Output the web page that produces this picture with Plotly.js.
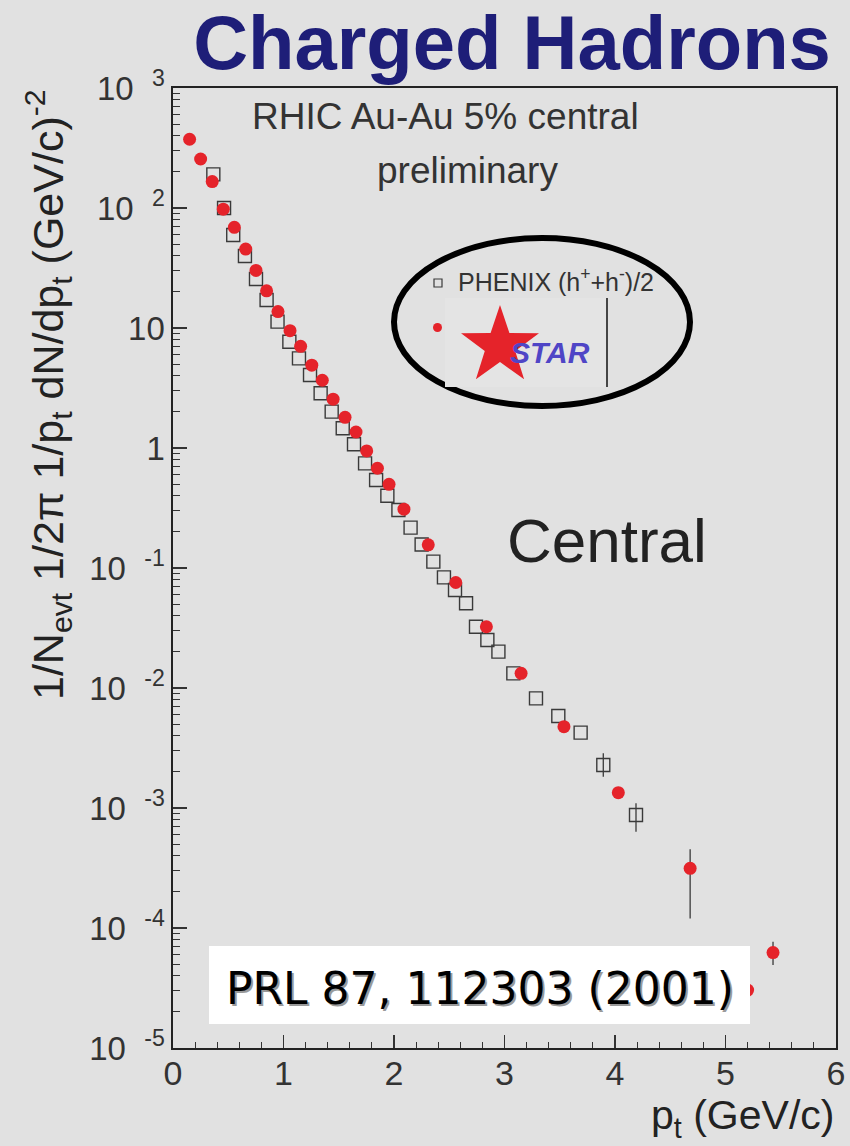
<!DOCTYPE html>
<html>
<head>
<meta charset="utf-8">
<script src="https://cdn.plot.ly/plotly-3.0.1.min.js"></script>
<style>
  html, body { margin: 0; padding: 0; background: #e1e1e1; }
  #chart { width: 850px; height: 1146px; }
</style>
</head>
<body>
<div id="chart"></div>
<script>
// ---------------- data ----------------
const starPt = [0.15, 0.25, 0.355, 0.455, 0.555, 0.658, 0.751, 0.847, 0.95, 1.059, 1.155, 1.256, 1.351, 1.449, 1.557, 1.656, 1.753, 1.85, 1.955, 2.09, 2.31, 2.559, 2.836, 3.15, 3.538, 4.03, 4.68, 5.2, 5.43];
const starYield = [374, 256, 166, 97.7, 69.0, 45.5, 30.2, 20.4, 13.7, 9.5, 7.03, 4.9, 3.67, 2.55, 1.80, 1.36, 0.946, 0.678, 0.498, 0.309, 0.156, 0.0757, 0.0324, 0.01324, 0.00476, 0.001343, 0.000314, 0.0000304, 0.0000624];
const starErrPlus  = [0,0,0,0,0,0,0,0,0,0,0,0,0,0,0,0,0,0,0,0,0,0,0,0,0,0, 0.000139, 0.000008, 0.0000145];
const starErrMinus = [0,0,0,0,0,0,0,0,0,0,0,0,0,0,0,0,0,0,0,0,0,0,0,0,0,0, 0.000194, 0.000008, 0.0000132];

const phenixPt = [0.365, 0.462, 0.545, 0.651, 0.751, 0.847, 0.946, 1.053, 1.14, 1.24, 1.336, 1.436, 1.536, 1.638, 1.738, 1.838, 1.94, 2.04, 2.15, 2.25, 2.356, 2.452, 2.552, 2.652, 2.742, 2.845, 2.945, 3.08, 3.285, 3.487, 3.689, 3.894, 4.19];
const phenixYield = [190.5, 100, 59.6, 39.8, 25.6, 17.1, 11.3, 7.69, 5.58, 4.06, 2.86, 2.01, 1.46, 1.074, 0.745, 0.541, 0.40, 0.304, 0.217, 0.157, 0.113, 0.0836, 0.0656, 0.0508, 0.0324, 0.0251, 0.0201, 0.01324, 0.0082, 0.00585, 0.00425, 0.00228, 0.000875];
const phenixErrPlus  = [0,0,0,0,0,0,0,0,0,0,0,0,0,0,0,0,0,0,0,0,0,0,0,0,0,0,0,0,0,0,0, 0.000578, 0.000219];
const phenixErrMinus = [0,0,0,0,0,0,0,0,0,0,0,0,0,0,0,0,0,0,0,0,0,0,0,0,0,0,0,0,0,0,0, 0.000456, 0.00024];

const yTickVals = [1e-5, 1e-4, 1e-3, 1e-2, 1e-1, 1, 10, 100, 1000];
const yTickText = ["10\u00a0\u00a0<sup>-5</sup>", "10\u00a0\u00a0<sup>-4</sup>", "10\u00a0\u00a0<sup>-3</sup>", "10\u00a0\u00a0<sup>-2</sup>", "10\u00a0\u00a0<sup>-1</sup>", "1", "10", "10\u00a0\u00a0<sup>2</sup>", "10\u00a0\u00a0<sup>3</sup>"];
const xTickVals = [0, 1, 2, 3, 4, 5, 6];
const xTickText = ["0", "1", "2", "3", "4", "5", "6"];

// ---------------- geometry helpers ----------------
const W = 850, H = 1146;
const M = {l: 173, r: 14, t: 88, b: 98};
const PW = W - M.l - M.r, PH = H - M.t - M.b;
const fx = px => (px - M.l) / PW;
const fy = py => (H - M.b - py) / PH;

const yMinor = [];
for (let n = -5; n <= 2; n++) for (let k = 2; k <= 9; k++) yMinor.push(k * Math.pow(10, n));

// star logo path
function starPath(cx, cy, R, r) {
  let d = "";
  for (let i = 0; i < 10; i++) {
    const a = -Math.PI / 2 + i * Math.PI / 5;
    const rad = (i % 2 === 0) ? R : r;
    const X = fx(cx + rad * Math.cos(a)), Y = fy(cy + rad * Math.sin(a));
    d += (i === 0 ? "M" : "L") + X.toFixed(5) + "," + Y.toFixed(5) + " ";
  }
  return d + "Z";
}

const BG = "#e1e1e1";
const FONT = "Liberation Sans, Arial, sans-serif";

const traces = [
  {
    x: phenixPt, y: phenixYield, type: "scatter", mode: "markers", name: "PHENIX",
    marker: {symbol: "square-open", size: 13, color: "#3a3a3a", line: {color: "#3a3a3a", width: 1.4}},
    error_y: {type: "data", symmetric: false, array: phenixErrPlus, arrayminus: phenixErrMinus, color: "#3a3a3a", thickness: 1.3, width: 0},
    showlegend: false, hoverinfo: "skip"
  },
  {
    x: starPt, y: starYield, type: "scatter", mode: "markers", name: "STAR",
    marker: {symbol: "circle", size: 13, color: "#e5232a"},
    error_y: {type: "data", symmetric: false, array: starErrPlus, arrayminus: starErrMinus, color: "#3a3a3a", thickness: 1.3, width: 0},
    showlegend: false, hoverinfo: "skip"
  }
];

const shapes = [
  // legend ellipse
  {type: "circle", xref: "paper", yref: "paper", x0: fx(394), x1: fx(690), y0: fy(406), y1: fy(238), line: {color: "#000", width: 6}, fillcolor: "rgba(0,0,0,0)"},
  // logo background
  {type: "rect", xref: "paper", yref: "paper", x0: fx(445), x1: fx(607), y0: fy(387), y1: fy(298), line: {width: 0}, fillcolor: "#e4e4e4"},
  {type: "line", xref: "paper", yref: "paper", x0: fx(607), x1: fx(607), y0: fy(387), y1: fy(298), line: {color: "#111", width: 1.5}},
  // red star
  {type: "path", xref: "paper", yref: "paper", path: starPath(500, 346, 41, 16), fillcolor: "#e5232a", line: {width: 0}},
  // legend symbols
  {type: "rect", xref: "paper", yref: "paper", x0: fx(434), x1: fx(442), y0: fy(287), y1: fy(279), line: {color: "#3a3a3a", width: 1.2}, fillcolor: "rgba(0,0,0,0)"},
  {type: "circle", xref: "paper", yref: "paper", x0: fx(433), x1: fx(442), y0: fy(332), y1: fy(323), line: {width: 0}, fillcolor: "#e5232a"},
  // PRL white box
  {type: "rect", xref: "paper", yref: "paper", layer: "above", x0: fx(209), x1: fx(750), y0: fy(1024), y1: fy(946), line: {width: 0}, fillcolor: "#ffffff"}
];

const annotations = [
  {xref: "paper", yref: "paper", x: fx(445), y: fy(117), text: "RHIC Au-Au 5% central", showarrow: false, xanchor: "center", yanchor: "middle", font: {family: FONT, size: 37, color: "#333"}},
  {xref: "paper", yref: "paper", x: fx(467), y: fy(170), text: "preliminary", showarrow: false, xanchor: "center", yanchor: "middle", font: {family: FONT, size: 37, color: "#333"}},
  {xref: "paper", yref: "paper", x: fx(607), y: fy(540), text: "Central", showarrow: false, xanchor: "center", yanchor: "middle", font: {family: FONT, size: 62, color: "#222"}},
  {xref: "paper", yref: "paper", x: fx(456), y: fy(280), text: "PHENIX (h<sup>+</sup>+h<sup>-</sup>)/2", showarrow: false, xanchor: "left", yanchor: "middle", font: {family: FONT, size: 25, color: "#333"}},
  {xref: "paper", yref: "paper", x: fx(550), y: fy(352), text: "<b><i>STAR</i></b>", showarrow: false, xanchor: "center", yanchor: "middle", font: {family: FONT, size: 30, color: "#4f45c6"}},
  // PRL reference (shadow + text)
  {xref: "paper", yref: "paper", x: fx(482), y: fy(990), text: "PRL 87, 112303 (2001)", showarrow: false, xanchor: "center", yanchor: "middle", font: {family: "DejaVu Sans, sans-serif", size: 44, color: "#9a9a9a"}},
  {xref: "paper", yref: "paper", x: fx(480), y: fy(988), text: "PRL 87, 112303 (2001)", showarrow: false, xanchor: "center", yanchor: "middle", font: {family: "DejaVu Sans, sans-serif", size: 44, color: "#000"}},
  // axis titles
  {xref: "paper", yref: "paper", x: fx(836), y: fy(1118), text: "p<sub>t</sub> (GeV/c)", showarrow: false, xanchor: "right", yanchor: "middle", font: {family: FONT, size: 41, color: "#222"}},
  {xref: "paper", yref: "paper", x: fx(48), y: fy(395), text: "1/N<sub>evt</sub> 1/2\u03c0 1/p<sub>t</sub> dN/dp<sub>t</sub> (GeV/c)<sup>-2</sup>", textangle: -90, showarrow: false, xanchor: "center", yanchor: "middle", font: {family: FONT, size: 43, color: "#222"}}
];

const layout = {
  width: W, height: H,
  margin: M,
  paper_bgcolor: BG, plot_bgcolor: BG,
  title: {
    text: "<b>Charged Hadrons</b>",
    x: 512 / W, xanchor: "center", xref: "container",
    y: 1 - 42 / H, yanchor: "middle", yref: "container",
    font: {family: FONT, size: 76, color: "#1e1e78"}
  },
  xaxis: {
    range: [0, 6], tickmode: "array", tickvals: xTickVals, ticktext: xTickText,
    ticks: "inside", ticklen: 13, tickwidth: 1.3, tickcolor: "#333",
    ticklabelstandoff: -5,
    minor: {dtick: 0.2, tick0: 0, ticks: "inside", ticklen: 6, tickwidth: 1.1, tickcolor: "#333"},
    showline: true, mirror: true, linecolor: "#222", linewidth: 1.6,
    showgrid: false, zeroline: false,
    tickfont: {family: FONT, size: 34, color: "#333"}
  },
  yaxis: {
    type: "log", range: [-5, 3], tickmode: "array", tickvals: yTickVals, ticktext: yTickText,
    ticks: "inside", ticklen: 14, tickwidth: 1.3, tickcolor: "#333",
    minor: {tickmode: "array", tickvals: yMinor, ticks: "inside", ticklen: 7, tickwidth: 1.1, tickcolor: "#333"},
    showline: true, mirror: true, linecolor: "#222", linewidth: 1.6,
    showgrid: false, zeroline: false,
    tickfont: {family: FONT, size: 33, color: "#333"}
  },
  shapes: shapes,
  annotations: annotations,
  showlegend: false
};

Plotly.newPlot("chart", traces, layout, {displayModeBar: false, staticPlot: true});
</script>
</body>
</html>
